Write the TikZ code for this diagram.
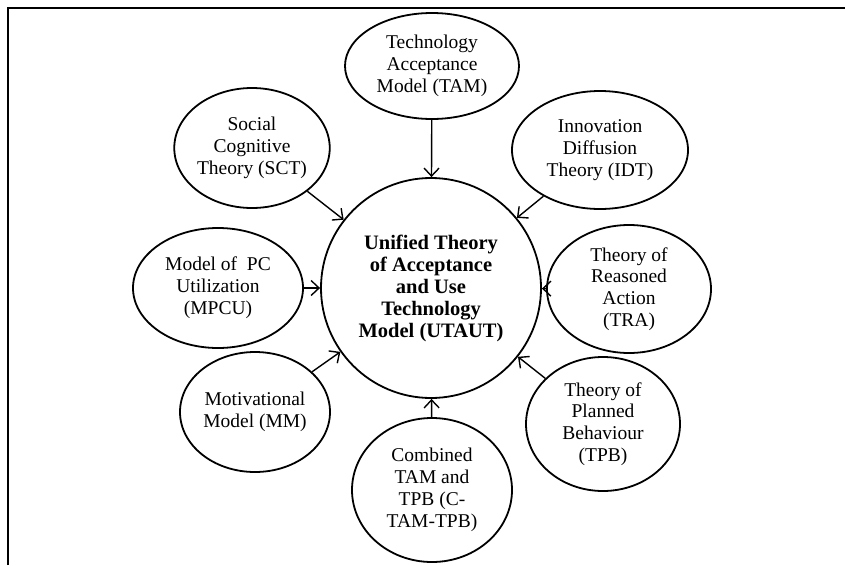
\documentclass[tikz,border=0pt]{standalone}
\usepackage{fontspec}
\setmainfont{Liberation Serif}
\usetikzlibrary{shapes.geometric,arrows.meta}
\begin{document}
\begin{tikzpicture}[x=1pt,y=-1pt,
  oval/.style={draw,ellipse,line width=1.8pt,inner sep=0pt,align=center,
    font=\fontsize{19.5}{21.8}\selectfont},
  hub/.style={draw,circle,line width=1.8pt,inner sep=0pt,align=center,
    minimum size=220pt,font=\fontsize{20.5}{22}\selectfont\bfseries},
  arr/.style={line width=1.4pt,-{Straight Barb[length=8pt,width=15pt,line width=1.4pt]}},
  frame/.style={line width=2pt}]
\useasboundingbox (0,0) rectangle (845,565);
\draw[frame] (8,565) -- (8,8) -- (845,8);

\node[hub] (u) at (431,288) {Unified Theory\\of Acceptance\\and Use\\Technology\\Model (UTAUT)};

\node[oval,minimum width=174pt,minimum height=106pt] (tam) at (432,66) {Technology\\Acceptance\\Model (TAM)};
\node[oval,minimum width=150pt,minimum height=120pt] (sct) at (252,148) {Social\\Cognitive\\Theory (SCT)};
\node[oval,minimum width=176pt,minimum height=118pt] (idt) at (600,150) {Innovation\\Diffusion\\Theory (IDT)};
\node[oval,minimum width=170pt,minimum height=120pt] (mpcu) at (218,288) {Model of\ \ PC\\Utilization\\(MPCU)};
\node[oval,minimum width=164pt,minimum height=128pt] (tra) at (629,289) {Theory of\\Reasoned\\Action\\(TRA)};
\node[oval,minimum width=150pt,minimum height=120pt] (mm) at (255,412) {Motivational\\Model (MM)};
\node[oval,minimum width=154pt,minimum height=134pt] (tpb) at (603,424) {Theory of\\Planned\\Behaviour\\(TPB)};
\node[oval,minimum width=160pt,minimum height=144pt] (ctam) at (432,490) {Combined\\TAM and\\TPB (C-\\TAM-TPB)};

\foreach \n in {tam,sct,idt,mpcu,tra,mm,tpb,ctam}
  \draw[arr] (\n) -- (u);
\end{tikzpicture}
\end{document}
